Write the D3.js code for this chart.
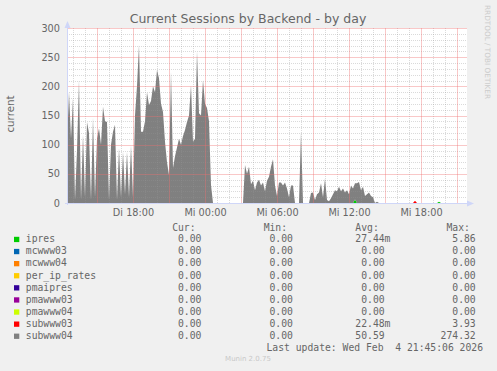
<!DOCTYPE html>
<html>
<head>
<meta charset="utf-8">
<script src="https://cdn.jsdelivr.net/npm/d3@7"></script>
<style>
body { margin: 0; background: #f0f0f0; }
svg { display: block; }
text { font-family: "DejaVu Sans"; fill: #666; }
.mono { font-family: "DejaVu Sans Mono"; font-size: 9.72px; white-space: pre; }
</style>
</head>
<body>
<svg width="497" height="371"></svg>
<script>
// samples every 10 minutes from Tue 3 Feb 12:30
var start = new Date(2026, 1, 3, 12, 30);
var stepMinutes = 10;
var sampleCount = 200;

var subwww04 = [
  100, 191, 110, 180, 5, 90, 211, 5, 117, 10,
  139, 120, 5, 146, 10, 110, 128, 100, 165, 140,
  139, 5, 100, 122, 134, 5, 94, 10, 88, 15,
  88, 10, 99, 10, 150, 200, 271, 122, 122, 140,
  190, 168, 175, 200, 190, 228, 214, 170, 156, 105,
  70, 48, 225, 60, 80, 95, 110, 100, 115, 125,
  139, 150, 202, 105, 110, 260, 154, 150, 211, 170,
  163, 140, 31, 0, 0, 0, 0, 0, 0, 0,
  0, 0, 0, 0, 0, 0, 0, 0, 0, 65,
  50, 62, 32, 38, 22, 35, 40, 30, 35, 20,
  38, 45, 62, 75, 30, 12, 35, 35, 30, 35,
  25, 10, 30, 30, 0, 0, 0, 122, 0, 0,
  0, 0, 17, 18, 5, 15, 18, 34, 10, 42,
  5, 3, 8, 15, 22, 20, 28, 20, 25, 18,
  22, 15, 30, 25, 28, 34, 36, 22, 28, 12,
  15, 18, 12, 10, 0, 2
];
// [sample index, value]
var ipresPeaks = [[144, 5.86], [186, 2.1]];
var subwww03Peaks = [[174, 3.93]];

var seriesNames = ['ipres', 'mcwww03', 'mcwww04', 'per_ip_rates', 'pmaipres', 'pmawww03', 'pmawww04', 'subwww03', 'subwww04'];
var seriesColors = ['#00cc00', '#0066b3', '#ff8000', '#ffcc00', '#330099', '#990099', '#ccff00', '#ff0000', '#808080'];
var curValues = ['0.00', '0.00', '0.00', '0.00', '0.00', '0.00', '0.00', '0.00', '0.00'];
var minValues = ['0.00', '0.00', '0.00', '0.00', '0.00', '0.00', '0.00', '0.00', '0.00'];
var avgValues = ['27.44m', '0.00', '0.00', '0.00', '0.00', '0.00', '0.00', '22.48m', '50.59'];
var maxValues = ['5.86', '0.00', '0.00', '0.00', '0.00', '0.00', '0.00', '3.93', '274.32'];
var yTicks = [0, 50, 100, 150, 200, 250, 300];
var dayNames = ['So', 'Mo', 'Di', 'Mi', 'Do', 'Fr', 'Sa'];

var svg = d3.select('svg');
var end = new Date(start.getTime() + 400 * 5 * 60000);

var x = d3.scaleTime().domain([start, end]).range([67, 467]);
var y = d3.scaleLinear().domain([0, 300]).range([203, 28]);

// build rows for the stack
var rows = [];
for (var i = 0; i < sampleCount; i++) {
    var r = { t: new Date(start.getTime() + i * stepMinutes * 60000) };
    seriesNames.forEach(function(n) { r[n] = 0; });
    r.subwww04 = i < subwww04.length ? subwww04[i] : 0;
    rows.push(r);
}
ipresPeaks.forEach(function(p) { rows[p[0]].ipres = p[1]; });
subwww03Peaks.forEach(function(p) { rows[p[0]].subwww03 = p[1]; });

var stacked = d3.stack().keys(seriesNames)(rows);

// canvas
svg.append('rect')
    .attr('x', 67).attr('y', 28)
    .attr('width', 400).attr('height', 175)
    .attr('fill', '#ffffff');

var area = d3.area()
    .x(function(d) { return x(d.data.t); })
    .y0(function(d) { return y(d[0]); })
    .y1(function(d) { return y(d[1]); });

svg.append('g').selectAll('path')
    .data(stacked)
    .enter().append('path')
    .attr('d', area)
    .attr('fill', function(d, i) { return seriesColors[i]; });

// grid
var minorY = d3.range(10, 301, 10).filter(function(v) { return v % 50 != 0; });
var hours = d3.timeHour.range(start, end);
var majorHours = hours.filter(function(h) { return h.getHours() % 3 == 0; });
var minorHours = hours.filter(function(h) { return h.getHours() % 3 != 0; });

var drawGrid = function(yVals, tVals, color, dash) {
    var g = svg.append('g');
    g.selectAll('line.h').data(yVals).enter().append('line').attr('class', 'h')
        .attr('x1', 67).attr('x2', 467)
        .attr('y1', function(d) { return Math.round(y(d)) + 0.5; })
        .attr('y2', function(d) { return Math.round(y(d)) + 0.5; });
    g.selectAll('line.v').data(tVals).enter().append('line').attr('class', 'v')
        .attr('y1', 28).attr('y2', 203)
        .attr('x1', function(d) { return Math.round(x(d)) + 0.5; })
        .attr('x2', function(d) { return Math.round(x(d)) + 0.5; });
    g.selectAll('line')
        .style('stroke', color)
        .style('stroke-width', 1)
        .style('stroke-dasharray', dash);
};
drawGrid(minorY, minorHours, 'rgba(150,150,150,0.35)', '1 1');
drawGrid(yTicks.slice(1), majorHours, 'rgba(240,110,110,0.38)', 'none');

// axes
var yAxis = svg.append('g')
    .attr('transform', 'translate(67,0)')
    .call(d3.axisLeft(y).tickValues(yTicks).tickSize(0).tickPadding(7));
var xAxis = svg.append('g')
    .attr('transform', 'translate(0,203)')
    .call(d3.axisBottom(x)
        .tickValues(d3.timeHour.every(6).range(start, end))
        .tickFormat(function(d) { return dayNames[d.getDay()] + ' ' + d3.timeFormat('%H:%M')(d); })
        .tickSize(0).tickPadding(6));
[yAxis, xAxis].forEach(function(a) {
    a.select('.domain').remove();
    a.selectAll('text').style('font-family', 'DejaVu Sans').style('font-size', '9.72px').attr('fill', '#666');
});

var axisColor = '#cfd6f8';
svg.append('line').attr('x1', 67.5).attr('x2', 67.5).attr('y1', 205).attr('y2', 25).attr('stroke', axisColor);
svg.append('line').attr('x1', 65).attr('x2', 470).attr('y1', 203.5).attr('y2', 203.5).attr('stroke', axisColor);
svg.append('path').attr('d', 'M64.5,28 L70.5,28 L67.5,21 Z').attr('fill', axisColor);
svg.append('path').attr('d', 'M467,200.5 L467,206.5 L474,203.5 Z').attr('fill', axisColor);

// titles
svg.append('text')
    .attr('x', 248).attr('y', 23)
    .attr('text-anchor', 'middle')
    .style('font-size', '12.5px')
    .text('Current Sessions by Backend - by day');

svg.append('text')
    .attr('transform', 'translate(14,114) rotate(-90)')
    .attr('text-anchor', 'middle')
    .style('font-size', '10.3px')
    .text('current');

svg.append('text')
    .attr('transform', 'translate(485,5) rotate(90)')
    .style('font-size', '7.3px')
    .style('fill', '#cccccc')
    .text('RRDTOOL / TOBI OETIKER');

// legend
var colX = [166.3, 257.8, 349.5, 440.6];
var headers = [' Cur:', ' Min:', ' Avg:', ' Max:'];
var pad = function(s) { return ('      ' + s).slice(-6); };
var legend = svg.append('g');

headers.forEach(function(h, i) {
    legend.append('text').attr('class', 'mono').attr('x', colX[i]).attr('y', 231).text(h);
});

seriesNames.forEach(function(n, i) {
    var by = 242.2 + i * 12.1;
    legend.append('rect')
        .attr('x', 14).attr('y', by - 5.4)
        .attr('width', 5.3).attr('height', 5.3)
        .attr('fill', seriesColors[i]);
    legend.append('text').attr('class', 'mono').attr('x', 25.8).attr('y', by).text(n);
    [curValues[i], minValues[i], avgValues[i], maxValues[i]].forEach(function(v, j) {
        var s = /[a-z]$/.test(v) ? pad(v.slice(0, -1)) + v.slice(-1) : pad(v);
        legend.append('text').attr('class', 'mono').attr('x', colX[j]).attr('y', by).text(s);
    });
});

legend.append('text').attr('class', 'mono')
    .attr('x', 483).attr('y', 350.7)
    .attr('text-anchor', 'end')
    .text('Last update: Wed Feb  4 21:45:06 2026');

svg.append('text')
    .attr('x', 248).attr('y', 361)
    .attr('text-anchor', 'middle')
    .style('font-size', '7px')
    .style('fill', '#c8c8c8')
    .text('Munin 2.0.75');
</script>
</body>
</html>
